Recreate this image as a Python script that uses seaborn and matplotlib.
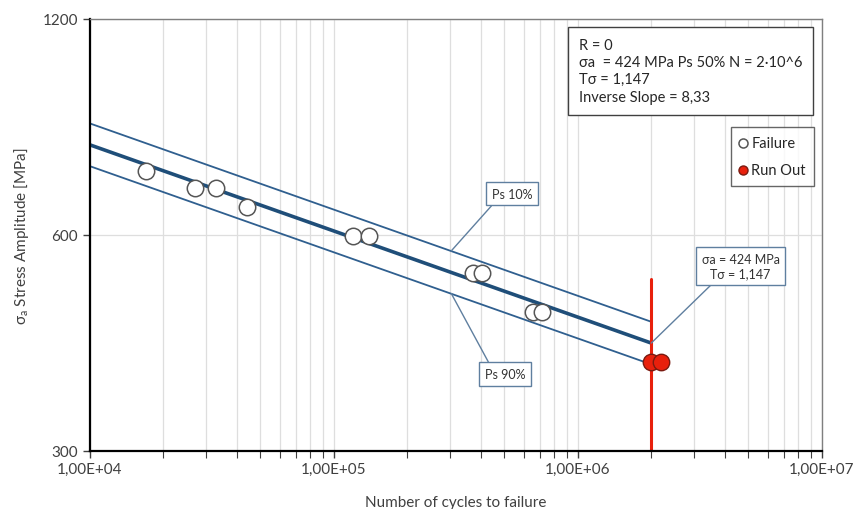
import matplotlib
matplotlib.use("Agg")
import matplotlib.pyplot as plt
import matplotlib.ticker as mticker
import seaborn as sns
import pandas as pd

# test results
fail_cycles = [17000, 27000, 33000, 44000, 120000, 140000, 372000, 403000, 656000, 710000]
fail_stress = [736, 697, 697, 656, 598, 598, 531, 531, 468, 468]
runout_cycles = [2.0e6, 2.2e6]
runout_stress = [399, 399]

# fitted curves (Ps 50%, Ps 10%, Ps 90%) between 1e4 and 2e6 cycles
curve_cycles = [1e4, 2e6]
ps50_stress = [801, 424]
ps10_stress = [858, 454]
ps90_stress = [748, 396]

# run-out limit line
limit_cycles = [2e6, 2e6]
limit_stress = [300, 520]

x_ticks = [1e4, 1e5, 1e6, 1e7]
y_ticks = [300, 600, 1200]

sns.set_style("white")
plt.rcParams['font.family'] = ['Lato', 'DejaVu Sans']

fig = plt.figure(figsize=(8.56, 5.10), dpi=100)
ax = fig.add_axes([0.105, 0.114, 0.855, 0.847])

blue = '#1f4e79'
sns.lineplot(x=curve_cycles, y=ps10_stress, ax=ax, color='#2f5f8f', lw=1.3)
sns.lineplot(x=curve_cycles, y=ps90_stress, ax=ax, color='#2f5f8f', lw=1.3)
sns.lineplot(x=curve_cycles, y=ps50_stress, ax=ax, color=blue, lw=2.6)
sns.lineplot(x=limit_cycles, y=limit_stress, ax=ax, color='#e8200c', lw=2.2,
             estimator=None, sort=False)

fail_df = pd.DataFrame({'cycles': fail_cycles, 'stress': fail_stress})
run_df = pd.DataFrame({'cycles': runout_cycles, 'stress': runout_stress})
sns.scatterplot(data=fail_df, x='cycles', y='stress', ax=ax, s=140,
                color='white', edgecolor='#555555', linewidth=1.1,
                label='Failure', zorder=5)
sns.scatterplot(data=run_df, x='cycles', y='stress', ax=ax, s=140,
                color='#e8200c', edgecolor='#7a1a10', linewidth=1.0,
                label='Run Out', zorder=5)

ax.set_xscale('log')
ax.set_yscale('log')
ax.set_xlim(1e4, 1e7)
ax.set_ylim(300, 1200)
ax.set_xticks(x_ticks)
ax.xaxis.set_major_formatter(mticker.FuncFormatter(lambda v, p: f"{v:.2E}".replace('.', ',')))
ax.xaxis.set_minor_locator(mticker.LogLocator(base=10, subs=range(2, 10)))
ax.xaxis.set_minor_formatter(mticker.NullFormatter())
ax.set_yticks(y_ticks)
ax.yaxis.set_major_formatter(mticker.FixedFormatter([str(v) for v in y_ticks]))
ax.yaxis.set_minor_locator(mticker.NullLocator())

ax.grid(axis='x', which='both', color='#dedede', lw=0.9)
ax.grid(axis='y', which='major', color='#dedede', lw=0.9)
ax.set_axisbelow(True)

for side in ['left', 'bottom']:
    ax.spines[side].set_color('black')
    ax.spines[side].set_linewidth(1.6)
for side in ['top', 'right']:
    ax.spines[side].set_color('#7f7f7f')
    ax.spines[side].set_linewidth(1.0)

ax.tick_params(axis='both', which='both', direction='out', colors='#404040',
               labelsize=11, bottom=True, left=True)
ax.tick_params(axis='x', which='major', length=5, width=1, pad=3)
ax.tick_params(axis='x', which='minor', length=5, width=0.8)
ax.tick_params(axis='y', which='major', length=5, width=1)

ax.set_xlabel('Number of cycles to failure', fontsize=11, color='#404040', labelpad=14)
ax.set_ylabel(r'σ$_\mathregular{a}$ Stress Amplitude [MPa]', fontsize=11, color='#404040', labelpad=8)

leg = ax.legend(loc='upper right', bbox_to_anchor=(0.99, 0.75), fontsize=10.5,
                frameon=True, fancybox=False, edgecolor='#404040', markerscale=0.55,
                handlelength=0.5, handletextpad=0.3, labelspacing=0.9, borderpad=0.6,
                borderaxespad=0)
leg.get_frame().set_linewidth(1.0)

ax.text(0.668, 0.88, 'R = 0\nσa  = 424 MPa Ps 50% N = 2·10^6\nTσ = 1,147\nInverse Slope = 8,33',
        transform=ax.transAxes, fontsize=10.5, va='center', ha='left', color='#262626',
        linespacing=1.3, bbox=dict(boxstyle='square,pad=0.75', fc='white', ec='#404040', lw=1.0))

lbox = dict(boxstyle='square,pad=0.45', fc='white', ec='#5f7f9f', lw=1.0)
arm = dict(arrowstyle='-', color='#5f7f9f', lw=1.0, shrinkA=0, shrinkB=0,
           connectionstyle='arc,angleA=180,angleB=0,armA=10,armB=0,rad=0')
ax.annotate('Ps 10%', xy=(303000, 570), xytext=(0.577, 0.595), textcoords='axes fraction',
            fontsize=9, ha='center', va='center', color='#333333', bbox=lbox, arrowprops=arm)
ax.annotate('Ps 90%', xy=(303000, 497), xytext=(0.567, 0.178), textcoords='axes fraction',
            fontsize=9, ha='center', va='center', color='#333333', bbox=lbox, arrowprops=arm)
ax.annotate('σa = 424 MPa\nTσ = 1,147', xy=(2e6, 424), xytext=(0.889, 0.428),
            textcoords='axes fraction', fontsize=9, ha='center', va='center',
            color='#333333', bbox=lbox, arrowprops=arm)

fig.savefig('out.png', dpi=100)
